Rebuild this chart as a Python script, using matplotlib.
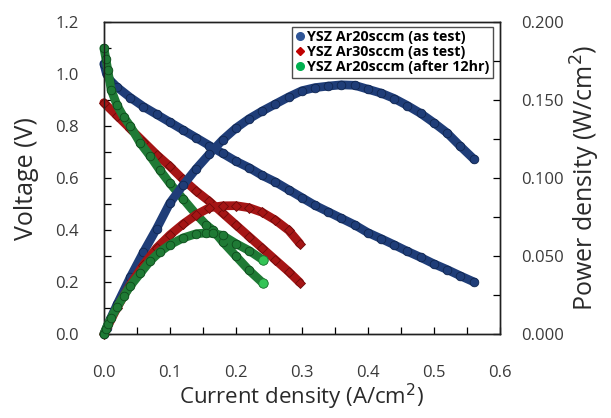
import numpy as np
import matplotlib
matplotlib.use("Agg")
import matplotlib.pyplot as plt
from matplotlib.lines import Line2D
from matplotlib.ticker import MultipleLocator, FormatStrFormatter

plt.rcParams["font.family"] = ["Open Sans", "DejaVu Sans"]

# ------------------------------------------------------------
# Datos
# ------------------------------------------------------------
# YSZ Ar20sccm (as test)
i_azul = [0.0, 0.004, 0.01, 0.02, 0.04, 0.06, 0.08, 0.10, 0.12, 0.14, 0.16,
          0.18, 0.20, 0.22, 0.24, 0.26, 0.28, 0.30, 0.32, 0.34, 0.36, 0.38,
          0.40, 0.42, 0.44, 0.46, 0.48, 0.50, 0.52, 0.54, 0.561]
v_azul = [1.04, 1.00, 0.975, 0.95, 0.91, 0.875, 0.845, 0.815, 0.785, 0.755,
          0.725, 0.695, 0.665, 0.64, 0.61, 0.585, 0.555, 0.525, 0.495, 0.47,
          0.445, 0.42, 0.39, 0.367, 0.343, 0.318, 0.295, 0.27, 0.248, 0.224,
          0.20]
p_azul = [0.0, 0.004, 0.0098, 0.019, 0.0364, 0.0525, 0.0676, 0.084, 0.0955,
          0.106, 0.1155, 0.1245, 0.132, 0.138, 0.143, 0.1475, 0.152, 0.156,
          0.158, 0.159, 0.1598, 0.1595, 0.157, 0.1545, 0.151, 0.1465, 0.1415,
          0.1355, 0.129, 0.1205, 0.112]

# YSZ Ar30sccm (as test)
i_rojo = [0.0, 0.02, 0.04, 0.06, 0.08, 0.10, 0.12, 0.14, 0.16, 0.18, 0.20,
          0.22, 0.24, 0.26, 0.28, 0.297]
v_rojo = [0.89, 0.84, 0.79, 0.74, 0.69, 0.645, 0.595, 0.55, 0.51, 0.465,
          0.42, 0.375, 0.33, 0.285, 0.24, 0.198]
p_rojo = [0.0, 0.0168, 0.0316, 0.0444, 0.0552, 0.0635, 0.0705, 0.0765,
          0.081, 0.0822, 0.0823, 0.081, 0.078, 0.073, 0.0665, 0.058]

# YSZ Ar20sccm (after 12hr)
i_verde = [0.0, 0.003, 0.006, 0.011, 0.02, 0.03, 0.04, 0.055, 0.07, 0.085,
           0.10, 0.12, 0.14, 0.155, 0.165, 0.18, 0.20, 0.22, 0.241]
v_verde = [1.10, 1.06, 1.015, 0.94, 0.88, 0.835, 0.80, 0.735, 0.685, 0.63,
           0.58, 0.52, 0.46, 0.42, 0.40, 0.355, 0.30, 0.245, 0.196]
p_verde = [0.0, 0.0032, 0.0061, 0.0102, 0.0172, 0.0242, 0.0308, 0.0388,
           0.0468, 0.0527, 0.0572, 0.0616, 0.0643, 0.0648, 0.0645, 0.0632,
           0.058, 0.0535, 0.0475]

etiquetas = ["YSZ Ar20sccm (as test)", "YSZ Ar30sccm (as test)",
             "YSZ Ar20sccm (after 12hr)"]

# ------------------------------------------------------------
# Grafico
# ------------------------------------------------------------
fig = plt.figure(figsize=(6.11, 4.18), dpi=100)
ax = fig.add_axes([0.170, 0.201, 0.648, 0.746])
ax2 = ax.twinx()
ax2.set_ylim(0, 0.2)

series = [
    (i_azul, v_azul, p_azul, "#1f3d78", "#102650", "o"),
    (i_rojo, v_rojo, p_rojo, "#a51515", "#6e0a0a", "D"),
    (i_verde, v_verde, p_verde, "#1f7a35", "#0e4a1c", "o"),
]

for k, (i_, v_, p_, color, borde, marca) in enumerate(series):
    ms = 6.2 if marca == "o" else 5.0
    for a, y_ in ((ax, v_), (ax2, p_)):
        a.plot(i_, y_, "-", color=color, lw=6.3, solid_capstyle="round",
               zorder=2 + k, clip_on=False)
        a.plot(i_, y_, ls="", marker=marca, ms=ms, mfc=color, mec=borde,
               mew=0.6, zorder=2 + k, clip_on=False)

# puntos finales mas claros de la serie verde
ax.plot(i_verde[-1], v_verde[-1], "o", ms=6.8, mfc="#33c456", mec="#1f7a35",
        mew=0.6, zorder=6)
ax2.plot(i_verde[-1], p_verde[-1], "o", ms=6.8, mfc="#33c456",
         mec="#1f7a35", mew=0.6, zorder=6)

ax.set_xlim(0, 0.6)
ax.set_ylim(0, 1.2)

ax.xaxis.set_major_locator(MultipleLocator(0.1))
ax.xaxis.set_minor_locator(MultipleLocator(0.05))
ax.yaxis.set_major_locator(MultipleLocator(0.2))
ax.yaxis.set_minor_locator(MultipleLocator(0.1))
ax.xaxis.set_major_formatter(FormatStrFormatter("%.1f"))
ax.yaxis.set_major_formatter(FormatStrFormatter("%.1f"))

ax2.yaxis.set_major_locator(MultipleLocator(0.05))
ax2.yaxis.set_minor_locator(MultipleLocator(0.025))
ax2.yaxis.set_major_formatter(FormatStrFormatter("%.3f"))

for a in (ax, ax2):
    a.tick_params(which="both", direction="in", labelsize=12,
                  labelcolor="#3a3a3a", width=0.9, length=5)
    for s in a.spines.values():
        s.set_linewidth(1.0)
        s.set_color("#202020")

ax.tick_params(axis="x", which="both", pad=22)
ax.tick_params(axis="y", which="both", pad=18)
ax2.tick_params(axis="y", which="both", pad=15)

ax.set_xlabel("Current density (A/cm$^2$)", fontsize=16, color="#2a2a2a",
              labelpad=1)
ax.set_ylabel("Voltage (V)", fontsize=18, color="#2a2a2a", labelpad=12)
ax2.set_ylabel("Power density (W/cm$^2$)", fontsize=18, color="#2a2a2a",
               labelpad=4)

manijas = [
    Line2D([], [], ls="", marker="o", ms=5.5, mfc="#2f5597", mec="#2f5597"),
    Line2D([], [], ls="", marker="D", ms=4.5, mfc="#c00000", mec="#c00000"),
    Line2D([], [], ls="", marker="o", ms=5.5, mfc="#00b050", mec="#00b050"),
]
leg = ax2.legend(manijas, etiquetas, loc="upper right",
                 bbox_to_anchor=(0.99, 0.995), frameon=True, fancybox=False,
                 edgecolor="#202020", handlelength=0.6, handletextpad=0.2,
                 labelspacing=0.08, borderpad=0.25, borderaxespad=0.2,
                 prop={"weight": "bold", "size": 10.3})
leg.get_frame().set_linewidth(1.0)
leg.set_zorder(10)

plt.savefig("out.png", dpi=100)
